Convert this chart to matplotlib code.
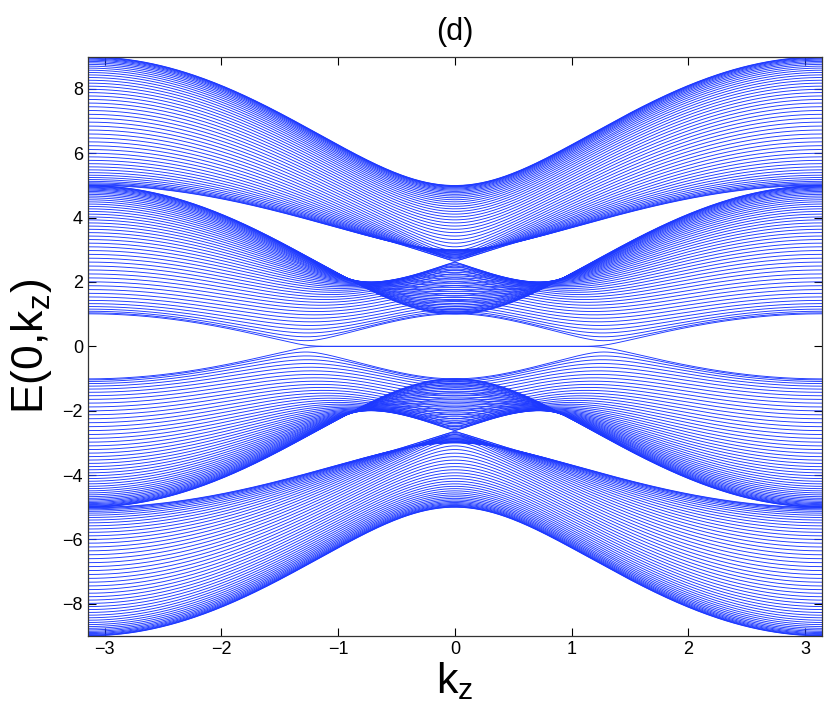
import numpy as np
import matplotlib
matplotlib.use("Agg")
import matplotlib.pyplot as plt

# Model parameters (slab of a magnetic Weyl semimetal, kx = 0)
A_so = 2.0        # spin-orbit amplitude
b_zeeman = 2.0    # Zeeman splitting
t_hop = 2.0       # hopping
m_onsite = 3.0    # mass term (M = m - t cos ky - t cos kz)
n_layers = 50     # slab thickness
kz_values = np.linspace(-np.pi, np.pi, 361)
x_ticks = [-3, -2, -1, 0, 1, 2, 3]
y_ticks = [-8, -6, -4, -2, 0, 2, 4, 6, 8]

s0 = np.eye(2); sx = np.array([[0, 1], [1, 0]], complex)
sy = np.array([[0, -1j], [1j, 0]]); sz = np.array([[1, 0], [0, -1]], complex)
G2 = np.kron(sz, sy)     # tau_z sigma_y
G3 = np.kron(sz, sz)     # tau_z sigma_z
G4 = np.kron(sx, s0)     # tau_x
B = np.kron(s0, sz)      # sigma_z

T = -(t_hop / 2) * G4 + 1j * (A_so / 2) * G2
off = np.eye(n_layers, k=-1)

bands = []
for kz in kz_values:
    h0 = A_so * np.sin(kz) * G3 + (m_onsite - t_hop * np.cos(kz)) * G4 + b_zeeman * B
    H = np.kron(np.eye(n_layers), h0) + np.kron(off, T)
    H = H + np.kron(off.T, T.conj().T)
    bands.append(np.linalg.eigvalsh(H))
bands = np.array(bands)

plt.rcParams['font.family'] = ['Liberation Sans', 'DejaVu Sans']
fig = plt.figure(figsize=(8.3, 7.09), dpi=100)
ax = fig.add_axes([0.106, 0.103, 0.884, 0.817])
ax.plot(kz_values, bands, color='#1c38ff', lw=0.65)
ax.set_xlim(-np.pi, np.pi)
ax.set_ylim(-9, 9)
ax.set_xticks(x_ticks)
ax.set_yticks(y_ticks)
ax.set_xticklabels([str(v).replace('-', '\u2212') for v in x_ticks])
ax.set_yticklabels([str(v).replace('-', '\u2212') for v in y_ticks])
ax.tick_params(direction='in', top=True, right=True, length=6, labelsize=13, width=0.8)
for sp in ax.spines.values():
    sp.set_linewidth(0.9)
    sp.set_color('#333333')
ax.set_title('(d)', fontsize=22, pad=12)
ax.set_xlabel(r'k$_\mathregular{z}$', fontsize=31, labelpad=2)
ax.set_ylabel(r'E(0,k$_\mathregular{z}$)', fontsize=32, labelpad=6)
fig.savefig('out.png', dpi=100)
